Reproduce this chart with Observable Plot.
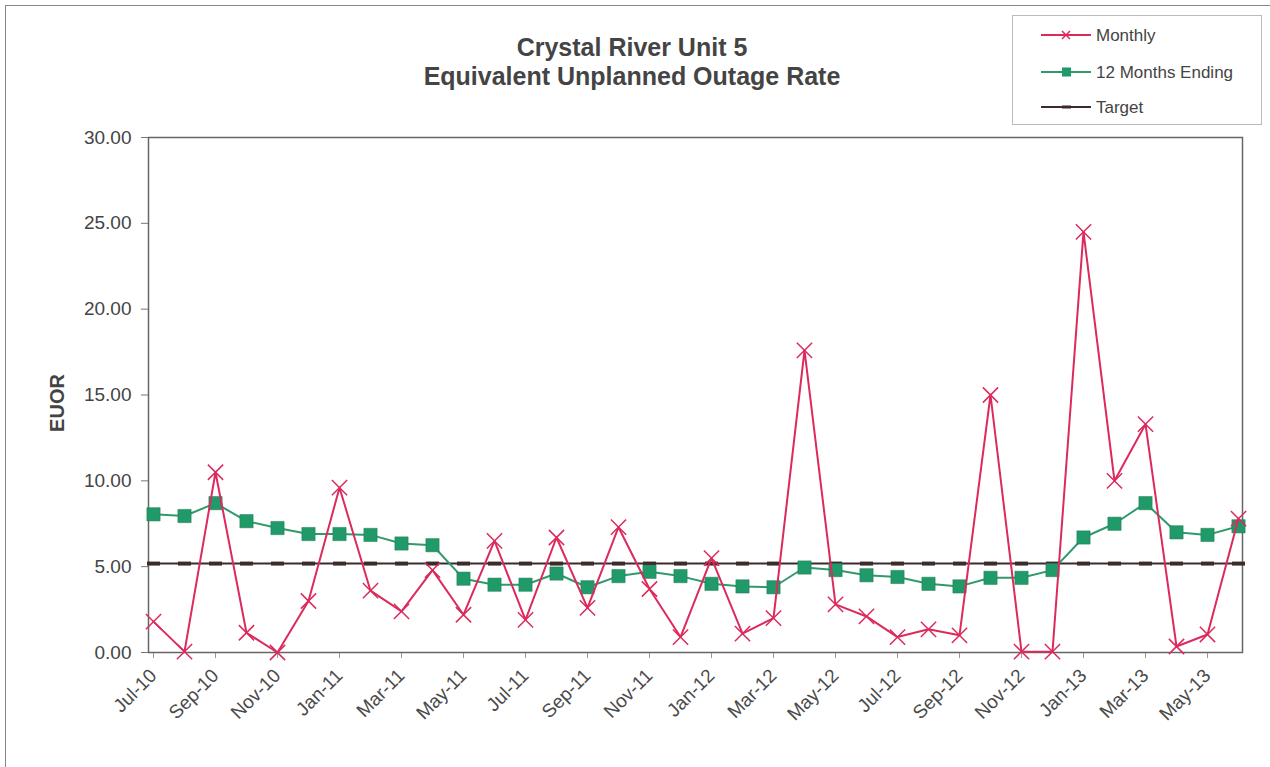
<!DOCTYPE html>
<html>
<head>
<meta charset="utf-8">
<script src="https://cdn.jsdelivr.net/npm/d3@7"></script>
<script src="https://cdn.jsdelivr.net/npm/@observablehq/plot@0.6"></script>
<style>
  body { margin: 0; background: #fff; font-family: Arial, "Liberation Sans", sans-serif; }
  #wrap { position: relative; width: 1270px; height: 767px; overflow: hidden; }
  #border { position: absolute; left: 5px; top: 5px; width: 1270px; height: 800px; border-left: 1.5px solid #888; border-top: 1.5px solid #888; }
  #title { position: absolute; left: 282px; width: 700px; top: 33px; text-align: center; font-weight: bold; font-size: 25px; line-height: 29px; color: #444; }
  #legend { position: absolute; left: 1012px; top: 15px; width: 248px; height: 108px; border: 1px solid #bbb; background: #fff; }
  #chart { position: absolute; left: 0; top: 0; }
</style>
</head>
<body>
<div id="wrap">
  <div id="border"></div>
  <div id="chart"></div>
  <div id="title">Crystal River Unit 5<br>Equivalent Unplanned Outage Rate</div>
  <div id="legend"></div>
</div>
<script>
const months = ["Jul-10","Aug-10","Sep-10","Oct-10","Nov-10","Dec-10",
  "Jan-11","Feb-11","Mar-11","Apr-11","May-11","Jun-11","Jul-11","Aug-11","Sep-11","Oct-11","Nov-11","Dec-11",
  "Jan-12","Feb-12","Mar-12","Apr-12","May-12","Jun-12","Jul-12","Aug-12","Sep-12","Oct-12","Nov-12","Dec-12",
  "Jan-13","Feb-13","Mar-13","Apr-13","May-13","Jun-13"];
const monthly = [1.8, 0.05, 10.5, 1.15, 0.0, 3.0,
  9.6, 3.6, 2.4, 4.8, 2.2, 6.5, 1.9, 6.7, 2.6, 7.3, 3.7, 0.9,
  5.5, 1.1, 2.0, 17.6, 2.8, 2.1, 0.9, 1.35, 1.0, 15.0, 0.05, 0.05,
  24.5, 10.0, 13.3, 0.35, 1.05, 7.8];
const rolling12 = [8.05, 7.95, 8.7, 7.65, 7.25, 6.9,
  6.9, 6.85, 6.35, 6.25, 4.3, 3.95, 3.95, 4.6, 3.8, 4.45, 4.7, 4.45,
  4.0, 3.85, 3.8, 4.95, 4.8, 4.5, 4.4, 4.0, 3.85, 4.35, 4.35, 4.8,
  6.7, 7.5, 8.7, 7.0, 6.85, 7.35];
const targetValue = 5.18;
const yTicks = [0, 5, 10, 15, 20, 25, 30];
const xTickLabels = months.filter((d, i) => i % 2 === 0);
const seriesNames = ["Monthly", "12 Months Ending", "Target"];

const colMonthly = "#dc2a5c";
const colRolling = "#2f9a6c";
const colSquare = "#1f9a68";
const colTarget = "#3b2b2b";

const monthlyData = months.map((m, i) => ({month: m, value: monthly[i]}));
const rollingData = months.map((m, i) => ({month: m, value: rolling12[i]}));
const targetData = months.map((m) => ({month: m, value: targetValue}));

const dashSymbol = {
  draw(context, size) {
    const r = Math.sqrt(size / Math.PI);
    context.rect(-r * 1.3, -r * 0.4, r * 2.6, r * 0.8);
  }
};

const chart = Plot.plot({
  width: 1270,
  height: 767,
  marginLeft: 148,
  marginRight: 28,
  marginTop: 137,
  marginBottom: 115,
  style: {fontFamily: "Arial, 'Liberation Sans', sans-serif", color: "#444", background: "transparent", overflow: "visible"},
  x: {type: "point", domain: months, padding: 0, label: null},
  y: {domain: [0, 30], label: null},
  marks: [
    Plot.axisY({ticks: yTicks, tickFormat: d => d.toFixed(2), tickSize: 7, tickPadding: 10, fontSize: 19, stroke: "#777", fill: "#444", label: null}),
    Plot.axisX({ticks: xTickLabels, tickSize: 6, stroke: "#999", label: null, text: null}),
    Plot.axisX({ticks: xTickLabels, tickRotate: -45, tickSize: 0, tickPadding: 12, dy: 8, fontSize: 19, fill: "#4a4a4a", label: null}),
    Plot.frame({stroke: "#666", strokeWidth: 1.5}),
    Plot.text(["EUOR"], {frameAnchor: "left", textAnchor: "middle", dx: -91, dy: 8, rotate: -90, fontWeight: "bold", fontSize: 20, fill: "#444"}),
    Plot.line(targetData, {x: "month", y: "value", stroke: colTarget, strokeWidth: 2}),
    Plot.dot(targetData, {x: "month", y: "value", symbol: dashSymbol, r: 5, fill: colTarget, stroke: "none"}),
    Plot.line(rollingData, {x: "month", y: "value", stroke: colRolling, strokeWidth: 2}),
    Plot.dot(rollingData, {x: "month", y: "value", symbol: "square", r: 7.5, fill: colSquare, stroke: "#2a7a5a", strokeWidth: 0.5}),
    Plot.line(monthlyData, {x: "month", y: "value", stroke: colMonthly, strokeWidth: 2}),
    Plot.dot(monthlyData, {x: "month", y: "value", symbol: "times", r: 7, stroke: colMonthly, strokeWidth: 1.5})
  ]
});
document.getElementById("chart").appendChild(chart);

// Legend
const leg = d3.select("#legend").append("svg").attr("width", 248).attr("height", 108);
const rows = [
  {name: seriesNames[0], y: 19, color: colMonthly, sym: "x"},
  {name: seriesNames[1], y: 56, color: colRolling, sym: "sq"},
  {name: seriesNames[2], y: 91, color: colTarget, sym: "dash"}
];
rows.forEach(r => {
  leg.append("line").attr("x1", 28).attr("x2", 78).attr("y1", r.y).attr("y2", r.y).attr("stroke", r.color).attr("stroke-width", 2);
  if (r.sym === "x") {
    leg.append("path").attr("d", `M49,${r.y-4}L57,${r.y+4}M49,${r.y+4}L57,${r.y-4}`).attr("stroke", r.color).attr("stroke-width", 1.5);
  } else if (r.sym === "sq") {
    leg.append("rect").attr("x", 49).attr("y", r.y - 4.5).attr("width", 9).attr("height", 9).attr("fill", colSquare);
  } else {
    leg.append("rect").attr("x", 49).attr("y", r.y - 1.5).attr("width", 9).attr("height", 3).attr("fill", r.color);
  }
  leg.append("text").attr("x", 83).attr("y", r.y).attr("dy", "0.35em")
    .attr("font-family", "Arial, 'Liberation Sans', sans-serif").attr("font-size", 17).attr("fill", "#444").text(r.name);
});
</script>
</body>
</html>
